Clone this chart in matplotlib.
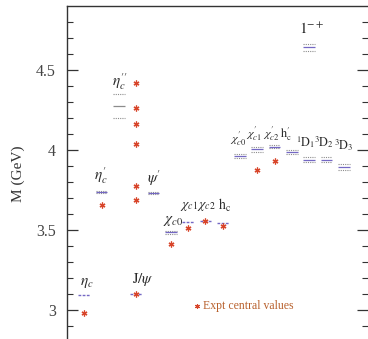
import matplotlib
matplotlib.use("Agg")
import matplotlib.pyplot as plt

plt.rcParams['font.family'] = ['Liberation Serif', 'DejaVu Serif']
plt.rcParams['mathtext.fontset'] = 'stix'

# ---- data ----
states = ["eta_c", "eta_c'", "eta_c''", "J/psi", "psi'", "chi_c0", "chi_c1", "chi_c2", "h_c",
          "chi_c0'", "chi_c1'", "chi_c2'", "h_c'", "1D1", "3D2", "3D3", "1-+"]
labels = [r"$\eta_c$", r"$\eta_c'$", r"$\eta_c''$", r"$\mathrm{J}/\psi$", r"$\psi'$",
          r"$\chi_{c0}$", r"$\chi_{c1}$", r"$\chi_{c2}$", r"$\mathrm{h_c}$",
          r"$\chi_{c0}'$", r"$\chi_{c1}'$", r"$\chi_{c2}'$", r"$\mathrm{h}_\mathrm{c}'$",
          r"$^1\mathrm{D}_1$", r"$^3\mathrm{D}_2$", r"$^3\mathrm{D}_3$", r"$1^{-+}$"]
columns = [0, 1, 2, 3, 4, 5, 6, 7, 8, 9, 10, 11, 12, 13, 14, 15, 13]
lat_center = [3.094, 3.735, 4.275, 3.100, 3.730, 3.485, 3.550, 3.555, 3.545,
              3.962, 4.005, 4.020, 3.990, 3.940, 3.940, 3.895, 4.643]
lat_err = [0.002, 0.006, 0.075, 0.002, 0.005, 0.010, 0.003, 0.003, 0.004,
           0.014, 0.015, 0.010, 0.013, 0.018, 0.018, 0.020, 0.022]
label_x = [0.12, 0.98, 2.05, 3.38, 4.02, 5.12, 6.07, 7.05, 8.1,
           8.9, 9.8, 10.8, 11.65, 12.8, 13.85, 14.98, 13.12]
label_y = [3.17, 3.84, 4.425, 3.19, 3.825, 3.555, 3.645, 3.645, 3.655,
           4.07, 4.10, 4.10, 4.095, 4.05, 4.05, 4.03, 4.756]

expt_col = [0, 1, 3, 3, 3, 3, 3, 3, 3, 5, 6, 7, 8, 10, 11]
expt_mass = [2.984, 3.655, 3.097, 3.686, 3.773, 4.040, 4.160, 4.262, 4.418,
             3.415, 3.515, 3.556, 3.525, 3.873, 3.931]

# ---- figure ----
W, H = 368, 339
fig = plt.figure(figsize=(W / 100, H / 100), dpi=100)
ax = fig.add_axes([67 / W, -3 / H, 1 - 67 / W, (342 - 6) / H])
ax.set_xlim(-1, 16.4)
ax.set_ylim(2.8, 4.9)

purple = '#7468c4'
gray = '#8c8c8c'
red = '#d8452a'
txt = '#2a2a2a'
half = 0.34

for i, (c, m, e) in enumerate(zip(columns, lat_center, lat_err)):
    if e < 0.005:
        ax.hlines(m, c - half, c + half, colors=purple, lw=1.0, linestyles=(0, (2, 1)))
        continue
    ax.hlines([m - e, m + e], c - half, c + half, colors=gray, lw=0.8, linestyles=(0, (1, 1)))
    col = gray if states[i] == "eta_c''" else purple
    ax.hlines(m, c - half, c + half, colors=col, lw=0.9)

ax.plot(expt_col, expt_mass, ls='none', marker=(6, 2, 0), ms=4.2, mew=0.9, color=red)

small_row = ("chi_c0'", "chi_c1'", "chi_c2'", "h_c'", "1D1", "3D2", "3D3")
mid_row = ("chi_c1", "chi_c2", "h_c")
for lab, x, y, s in zip(labels, label_x, label_y, states):
    fs = 8.8 if s in small_row else (10 if s in mid_row else 11)
    ax.text(x, y, lab, ha='center', va='center', fontsize=fs, color=txt)

ax.plot([6.53], [3.028], ls='none', marker=(6, 2, 0), ms=3.5, mew=0.8, color=red)
ax.text(6.85, 3.025, "Expt central values", ha='left', va='center', fontsize=8.5, color='#b8602c')

ax.set_ylabel("M (GeV)", fontsize=11, color='#333333', labelpad=8)
ax.set_xticks([])
ax.set_yticks([3.0, 3.5, 4.0, 4.5])
ax.set_yticklabels(["3", "3.5", "4", "4.5"])
ax.set_yticks([2.9, 3.1, 3.2, 3.3, 3.4, 3.6, 3.7, 3.8, 3.9, 4.1, 4.2, 4.3, 4.4, 4.6, 4.7, 4.8], minor=True)
ax.tick_params(axis='y', which='major', direction='in', length=8, width=0.9, labelsize=11.5,
               pad=8, right=True, colors='#333333', labelcolor='#444444')
ax.tick_params(axis='y', which='minor', direction='in', length=4.3, width=0.8, right=True, colors='#333333')
ax.spines['right'].set_visible(False)
ax.spines['bottom'].set_visible(False)
for s in ('left', 'top'):
    ax.spines[s].set_linewidth(1.0)
    ax.spines[s].set_color('#333333')

fig.savefig("out.png", dpi=100)
